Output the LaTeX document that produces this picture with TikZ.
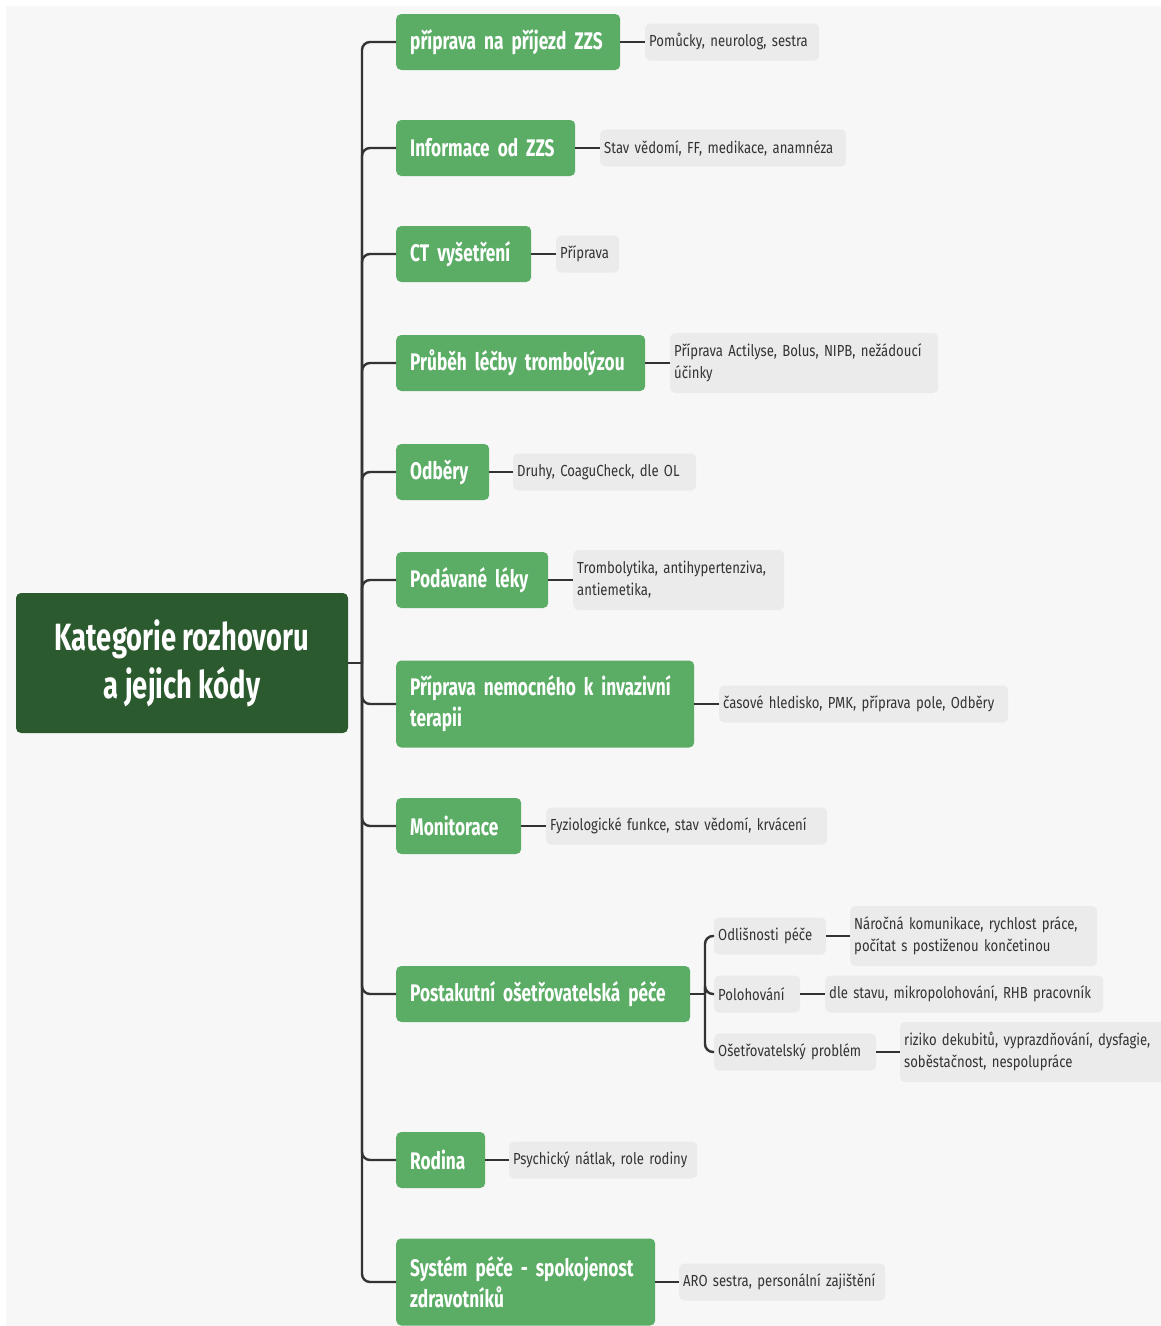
\documentclass[tikz,border=0pt]{standalone}
\usepackage{fontspec}
\setmainfont{Fira Sans}[FakeStretch=0.82]
\newfontfamily\catfont{Fira Sans}[FakeStretch=0.72]
\hyphenpenalty=10000
\exhyphenpenalty=10000
\usetikzlibrary{positioning}

\definecolor{rootgreen}{HTML}{2B5A2F}
\definecolor{catgreen}{HTML}{5BAD66}
\definecolor{notegray}{HTML}{EBEBEB}
\definecolor{paper}{HTML}{F7F7F7}
\definecolor{wire}{HTML}{333333}

\tikzset{
  rootbox/.style={fill=rootgreen, text=white, rounded corners=5pt, align=center,
    font=\catfont\fontsize{38}{48}\selectfont\bfseries, minimum width=332pt, minimum height=140pt},
  catbox/.style={fill=catgreen, text=white, rounded corners=5pt, anchor=west, align=left,
    font=\catfont\fontsize{24}{31}\selectfont\bfseries, inner xsep=14pt, inner ysep=0pt, minimum height=56pt},
  notebox/.style={fill=notegray, text=wire, rounded corners=5pt, anchor=west, align=left,
    font=\fontsize{16}{22}\selectfont, inner xsep=4pt, inner ysep=0pt, minimum height=37pt},
  link/.style={draw=wire, line width=2.4pt, rounded corners=8pt}
}

\begin{document}
\begin{tikzpicture}[x=1pt, y=-1pt]

  \clip (0,0) rectangle (1161,1326);
  \fill[white] (0,0) rectangle (1161,1326);
  \fill[paper] (6,6) rectangle (1161,1326);

  % root
  \node[rootbox] (root) at (182,663) {Kategorie rozhovoru\\a jejich kódy};
  \coordinate (hub) at (362,663);

  % categories
  \begin{scope}[every node/.style={catbox}]
    \node[text width=196pt] (k1)  at (396,42)   {příprava na příjezd ZZS};
    \node[text width=151pt] (k2)  at (396,148)  {Informace od ZZS};
    \node[text width=107pt] (k3)  at (396,254)  {CT vyšetření};
    \node[text width=221pt] (k4)  at (396,363)  {Průběh léčby trombolýzou};
    \node[text width=65pt]  (k5)  at (396,472)  {Odběry};
    \node[text width=124pt] (k6)  at (396,580)  {Podávané léky};
    \node[text width=270pt, minimum height=87pt] (k7) at (396,704) {Příprava nemocného k invazivní\\terapii};
    \node[text width=97pt]  (k8)  at (396,826)  {Monitorace};
    \node[text width=266pt] (k9)  at (396,994)  {Postakutní ošetřovatelská péče};
    \node[text width=61pt]  (k10) at (396,1160) {Rodina};
    \node[text width=231pt, minimum height=87pt] (k11) at (396,1282) {Systém péče - spokojenost\\zdravotníků};
  \end{scope}

  % notes
  \begin{scope}[every node/.style={notebox}]
    \node[text width=166pt] (p1)  at (645,42)   {Pomůcky, neurolog, sestra};
    \node[text width=238pt] (p2)  at (600,148)  {Stav vědomí, FF, medikace, anamnéza};
    \node[text width=55pt]  (p3)  at (556,254)  {Příprava};
    \node[text width=260pt, minimum height=60pt] (p4) at (670,363) {Příprava Actilyse, Bolus, NIPB, nežádoucí\\účinky};
    \node[text width=175pt] (p5)  at (513,472)  {Druhy, CoaguCheck, dle OL};
    \node[text width=203pt, minimum height=60pt] (p6) at (573,580) {Trombolytika, antihypertenziva,\\antiemetika,};
    \node[text width=281pt] (p7)  at (719,704)  {časové hledisko, PMK, příprava pole, Odběry};
    \node[text width=273pt] (p8)  at (546,826)  {Fyziologické funkce, stav vědomí, krvácení};
    \node[text width=104pt] (s1)  at (714,936)  {Odlišnosti péče};
    \node[text width=78pt]  (s2)  at (714,994)  {Polohování};
    \node[text width=154pt] (s3)  at (714,1052) {Ošetřovatelský problém};
    \node[text width=239pt, minimum height=60pt] (q1) at (850,936) {Náročná komunikace, rychlost práce,\\počítat s postiženou končetinou};
    \node[text width=270pt] (q2)  at (825,994)  {dle stavu, mikropolohování, RHB pracovník};
    \node[text width=264pt, minimum height=60pt] (q3) at (900,1052) {riziko dekubitů, vyprazdňování, dysfagie,\\soběstačnost, nespolupráce};
    \node[text width=180pt] (p10) at (509,1160) {Psychický nátlak, role rodiny};
    \node[text width=198pt] (p11) at (679,1282) {ARO sestra, personální zajištění};
  \end{scope}

  % trunk
  \draw[link] (root.east) -- (hub);
  \foreach \k in {k1,k2,k3,k4,k5,k6,k7,k8,k9,k10,k11}
    \draw[link] (hub) |- (\k.west);

  % category to note
  \foreach \k/\p in {k1/p1,k2/p2,k3/p3,k4/p4,k5/p5,k6/p6,k7/p7,k8/p8,k10/p10,k11/p11}
    \draw[link] (\k.east) -- (\p.west);

  % sub branches of Postakutni pece
  \coordinate (subhub) at (705,994);
  \draw[link] (k9.east) -- (subhub);
  \foreach \s/\q in {s1/q1,s2/q2,s3/q3} {
    \draw[link] (subhub) |- (\s.west);
    \draw[link] (\s.east) -- (\q.west);
  }

\end{tikzpicture}
\end{document}
